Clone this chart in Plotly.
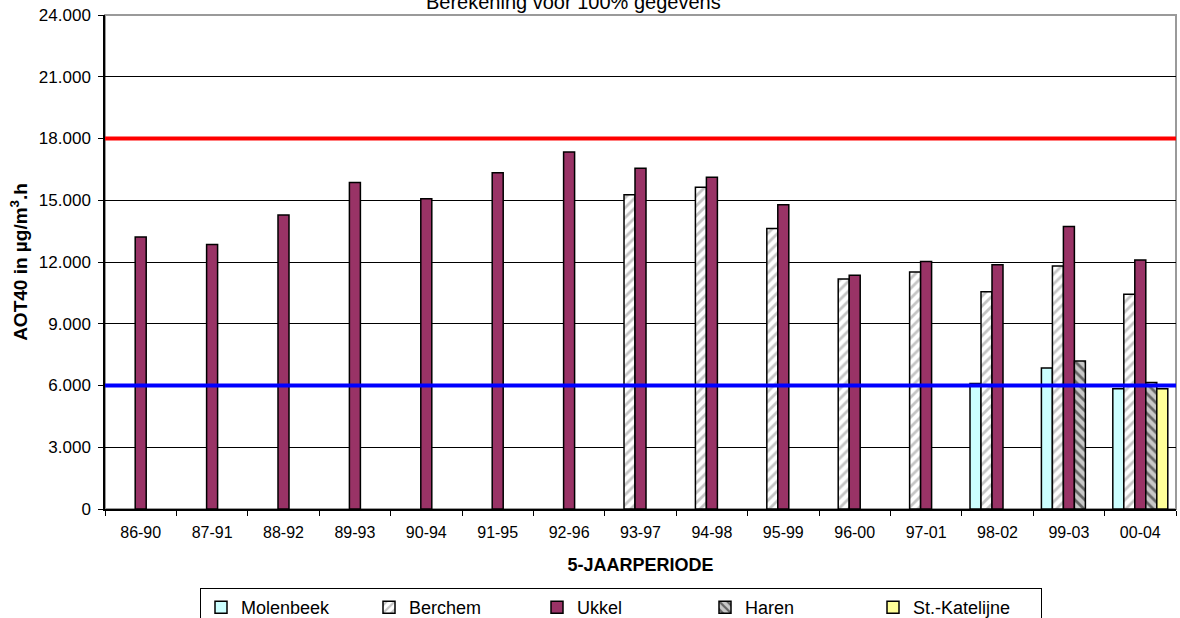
import plotly.graph_objects as go

# 5-year periods and AOT40 values (µg/m³.h) per station
periods = ["86-90", "87-91", "88-92", "89-93", "90-94", "91-95", "92-96", "93-97",
           "94-98", "95-99", "96-00", "97-01", "98-02", "99-03", "00-04"]

molenbeek = [None] * 12 + [6100, 6850, 5840]
berchem = [None] * 7 + [15270, 15630, 13630, 11170, 11520, 10560, 11810, 10430]
ukkel = [13210, 12850, 14280, 15860, 15070, 16340, 17340, 16550, 16120, 14780,
         11360, 12030, 11870, 13720, 12100]
haren = [None] * 13 + [7190, 6150]
katelijne = [None] * 14 + [5840]

# horizontal reference levels: red = 18.000, blue = 6.000
threshold_values = [18000, 6000]
threshold_colors = ["#FF0000", "#0000FF"]

y_ticks = [0, 3000, 6000, 9000, 12000, 15000, 18000, 21000, 24000]

FONT = "Liberation Sans, Arial, sans-serif"

outline = dict(color="#000000", width=1.5)

fig = go.Figure()
fig.add_trace(go.Bar(name="Molenbeek", x=periods, y=molenbeek,
                     marker=dict(color="#CCFFFF", line=outline)))
fig.add_trace(go.Bar(name="Berchem", x=periods, y=berchem,
                     marker=dict(color="#FFFFFF", line=outline,
                                 pattern=dict(shape="/", bgcolor="#FFFFFF",
                                              fgcolor="#8C8C8C", size=7,
                                              solidity=0.4))))
fig.add_trace(go.Bar(name="Ukkel", x=periods, y=ukkel,
                     marker=dict(color="#993366", line=outline)))
fig.add_trace(go.Bar(name="Haren", x=periods, y=haren,
                     marker=dict(color="#C0C0C0", line=outline,
                                 pattern=dict(shape="\\", bgcolor="#C8C8C8",
                                              fgcolor="#000000", size=7,
                                              solidity=0.4))))
fig.add_trace(go.Bar(name="St.-Katelijne", x=periods, y=katelijne,
                     marker=dict(color="#FFFF99", line=outline)))

# plot-area frame
fig.add_shape(type="rect", xref="x domain", yref="y domain", x0=0, x1=1, y0=0, y1=1,
              line=dict(color="#9A9A9A", width=2), layer="below")

for val, col in zip(threshold_values, threshold_colors):
    fig.add_shape(type="line", xref="x domain", yref="y", x0=0, x1=1, y0=val, y1=val,
                  line=dict(color=col, width=4), layer="above")

fig.add_annotation(text="Berekening voor 100% gegevens", xref="paper", yref="paper",
                   x=0.437, y=1.0, xanchor="center", yanchor="bottom", showarrow=False,
                   font=dict(family=FONT, size=20, color="#000000"))

fig.update_layout(
    width=1180, height=618,
    margin=dict(l=105, r=4, t=15, b=109, autoexpand=False),
    paper_bgcolor="#FFFFFF", plot_bgcolor="#FFFFFF",
    barmode="group", bargap=0.23, bargroupgap=0,
    separators=",.",
    font=dict(family=FONT, size=15, color="#000000"),
    showlegend=True,
    legend=dict(orientation="h", xref="container", yref="container",
                x=200 / 1180, y=1 - 588 / 618, xanchor="left", yanchor="top",
                bordercolor="#000000", borderwidth=1, bgcolor="#FFFFFF",
                entrywidth=123, entrywidthmode="pixels", itemwidth=30,
                font=dict(family=FONT, size=18, color="#000000"),
                traceorder="normal"),
)

fig.update_xaxes(type="category", showline=True, linecolor="#000000", linewidth=1.5,
                 ticks="outside", tickson="boundaries", ticklen=5, tickcolor="#000000",
                 showgrid=False, tickfont=dict(size=16), ticklabelstandoff=8,
                 title=dict(text="<b>5-JAARPERIODE</b>", font=dict(size=18), standoff=18))

fig.update_yaxes(range=[0, 24000], tickvals=y_ticks, tickformat=",d",
                 showline=True, linecolor="#000000", linewidth=1.5,
                 ticks="outside", ticklen=5, tickcolor="#000000",
                 showgrid=True, gridcolor="#000000", gridwidth=1, zeroline=False,
                 tickfont=dict(size=17), ticklabelstandoff=4,
                 title=dict(text="<b>AOT40 in µg/m<sup>3</sup>.h</b>", font=dict(size=19),
                            standoff=6))

fig.write_html("out.html")
